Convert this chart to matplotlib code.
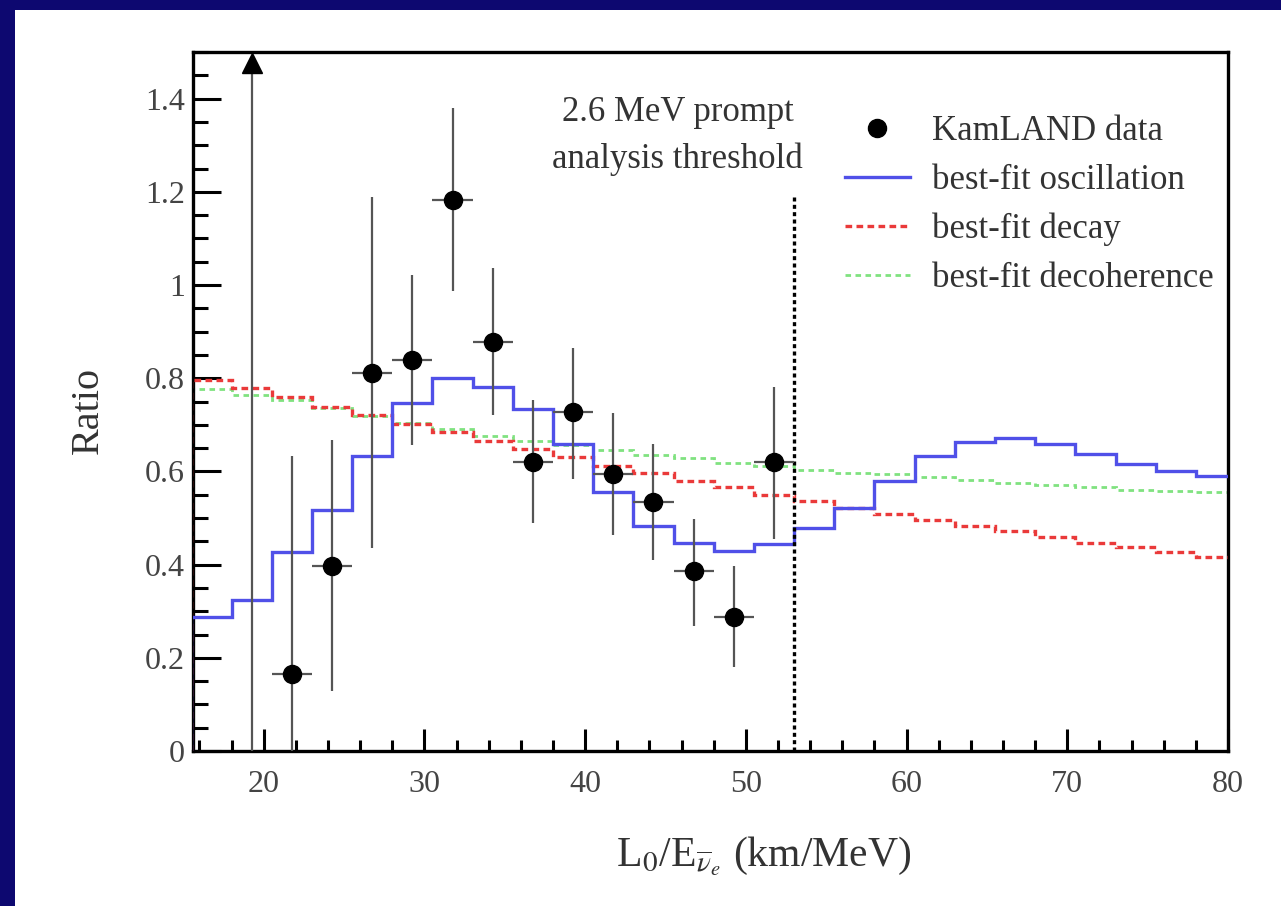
import numpy as np
import matplotlib
matplotlib.use("Agg")
import matplotlib.pyplot as plt
from matplotlib.patches import Rectangle
from matplotlib.lines import Line2D
from matplotlib.ticker import MultipleLocator, FuncFormatter

# ---- binned model curves (L0/E bins, km/MeV) ----
bin_edges = [15.5, 18.0, 20.5, 23.0, 25.5, 28.0, 30.5, 33.0, 35.5, 38.0, 40.5,
             43.0, 45.5, 48.0, 50.5, 53.0, 55.5, 58.0, 60.5, 63.0, 65.5, 68.0,
             70.5, 73.0, 75.5, 78.0, 80.5]
oscillation = [0.288, 0.324, 0.428, 0.517, 0.634, 0.747, 0.800, 0.782, 0.733,
               0.659, 0.555, 0.483, 0.447, 0.430, 0.445, 0.478, 0.522, 0.580,
               0.633, 0.664, 0.671, 0.659, 0.637, 0.616, 0.601, 0.590]
decay = [0.796, 0.780, 0.760, 0.739, 0.721, 0.702, 0.684, 0.665, 0.649, 0.630,
         0.611, 0.597, 0.580, 0.566, 0.549, 0.536, 0.522, 0.509, 0.496, 0.483,
         0.473, 0.460, 0.447, 0.437, 0.426, 0.416]
decoherence = [0.776, 0.764, 0.753, 0.735, 0.719, 0.703, 0.692, 0.675, 0.665,
               0.657, 0.645, 0.635, 0.628, 0.619, 0.612, 0.604, 0.597, 0.594,
               0.589, 0.582, 0.576, 0.571, 0.566, 0.561, 0.558, 0.555]

# ---- KamLAND data points ----
data_x = [21.75, 24.25, 26.75, 29.25, 31.75, 34.25, 36.75, 39.25, 41.75,
          44.25, 46.75, 49.25, 51.75]
data_y = [0.165, 0.397, 0.812, 0.838, 1.182, 0.877, 0.620, 0.727, 0.595,
          0.535, 0.387, 0.288, 0.620]
data_lo = [0.000, 0.128, 0.435, 0.657, 0.988, 0.720, 0.490, 0.583, 0.463,
           0.410, 0.268, 0.181, 0.456]
data_hi = [0.633, 0.667, 1.188, 1.021, 1.379, 1.036, 0.753, 0.864, 0.725,
           0.659, 0.497, 0.397, 0.782]
bin_half_width = 1.25

# first bin lies above the plotted range
offscale_x = [19.25]

threshold_x = 53.0
threshold_top = 1.19

x_ticks = [20, 30, 40, 50, 60, 70, 80]
y_ticks = [0, 0.2, 0.4, 0.6, 0.8, 1.0, 1.2, 1.4]

plt.rcParams["font.family"] = ["Liberation Serif", "DejaVu Serif"]
plt.rcParams["mathtext.fontset"] = "stix"

W, H = 1281, 906
fig = plt.figure(figsize=(W / 100, H / 100), dpi=100)
fig.patch.set_facecolor("#0d0870")
fig.add_artist(Rectangle((15 / W, 0), 1 - 15 / W, 1 - 10 / H,
                         transform=fig.transFigure, facecolor="white",
                         edgecolor="none", zorder=0))

ax = fig.add_axes([193 / W, (H - 751) / H, (1228 - 193) / W, (751 - 52) / H])
ax.set_facecolor("white")
ax.set_xlim(15.6, 80)
ax.set_ylim(0, 1.5)

blue = "#5050e8"
red = "#ea3a3a"
green = "#80e280"

ax.stairs(decoherence, bin_edges, color=green, lw=2.0,
          linestyle=(0, (2.0, 1.6)), zorder=2)
ax.stairs(decay, bin_edges, color=red, lw=2.4,
          linestyle=(0, (2.0, 1.3)), zorder=3)
ax.stairs(oscillation, bin_edges, color=blue, lw=2.4, zorder=4)

y = np.array(data_y)
yerr = [y - np.array(data_lo), np.array(data_hi) - y]
ax.errorbar(data_x, data_y, yerr=yerr, xerr=bin_half_width, fmt="o",
            ms=13, color="black", ecolor="#555555", elinewidth=1.6,
            capsize=0, zorder=5)

# off-scale point: vertical bar with an arrow head at the frame top
ax.vlines(offscale_x, 0, 1.47, color="#555555", lw=1.6, zorder=5)
ax.plot(offscale_x, [1.476], marker="^", ms=15, color="black",
        ls="none", zorder=6, clip_on=False)

ax.vlines(threshold_x, 0, threshold_top, color="black", lw=2.4,
          linestyles=(0, (1.2, 1.0)), zorder=4)
ax.text(45.76, 1.32, "2.6 MeV prompt\nanalysis threshold",
        ha="center", va="center", fontsize=25, color="#333333",
        linespacing=1.52)

# axes styling
for s in ax.spines.values():
    s.set_linewidth(2.4)
ax.set_xticks(x_ticks)
ax.set_yticks(y_ticks)
ax.xaxis.set_minor_locator(MultipleLocator(2))
ax.yaxis.set_minor_locator(MultipleLocator(0.05))
ax.yaxis.set_major_formatter(FuncFormatter(lambda v, p: "%g" % v))
ax.tick_params(axis="both", which="both", direction="in", top=False,
               right=False, width=2.2, labelcolor="#444444", labelsize=23)
ax.tick_params(axis="y", which="major", length=20, pad=6)
ax.tick_params(axis="y", which="minor", length=11)
ax.tick_params(axis="x", which="major", length=16, pad=14)
ax.tick_params(axis="x", which="minor", length=8)

fig.text(88 / W, 1 - 410 / H, "Ratio", rotation=90, ha="center",
         va="center", fontsize=29, color="#333333")
fig.text(764 / W, 1 - 866 / H,
         r"L$_0$/E$_{\overline{\nu}_e}$ (km/MeV)", ha="center", va="baseline",
         fontsize=30, color="#333333")

handles = [
    Line2D([], [], marker="o", ms=13, color="black", ls="none"),
    Line2D([], [], color=blue, lw=2.4),
    Line2D([], [], color=red, lw=2.4, ls=(0, (2.0, 1.3))),
    Line2D([], [], color=green, lw=2.0, ls=(0, (2.0, 1.6))),
]
labels = ["KamLAND data", "best-fit oscillation", "best-fit decay",
          "best-fit decoherence"]
leg = ax.legend(handles, labels, loc="upper left",
                bbox_to_anchor=(845 / W, 1 - 115 / H),
                bbox_transform=fig.transFigure, frameon=False, fontsize=25,
                handlelength=1.87, handletextpad=0.63, labelspacing=0.46,
                borderpad=0, borderaxespad=0)
for t in leg.get_texts():
    t.set_color("#333333")

fig.savefig("out.png", dpi=100, facecolor=fig.get_facecolor())
